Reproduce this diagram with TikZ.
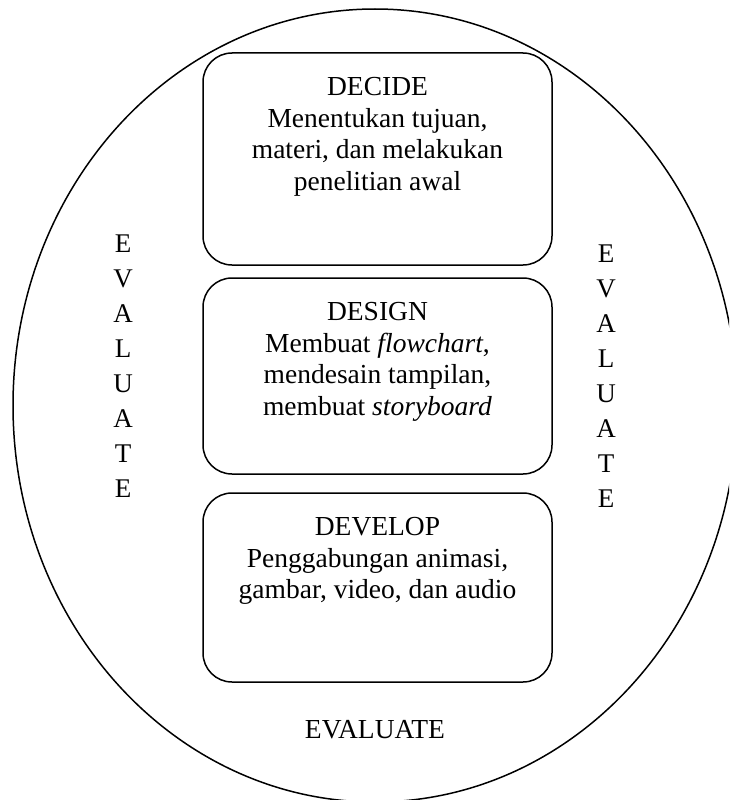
\documentclass[tikz,border=0pt]{standalone}
\usepackage{fontspec}
\setmainfont{Liberation Serif}
\usetikzlibrary{shapes.geometric}
\begin{document}
\begin{tikzpicture}[x=1pt,y=-1pt,
  stagebox/.style={draw,line width=1.5pt,rounded corners=29pt,inner sep=0pt,minimum width=349pt},
  txt/.style={align=center,inner sep=0pt,font=\fontsize{27.5}{31.5}\selectfont},
  vtxt/.style={align=center,inner sep=0pt,font=\fontsize{27}{35}\selectfont}]
\useasboundingbox (0,0) rectangle (729,800);
\clip (0,0) rectangle (729,800);
\node[draw,ellipse,line width=1.5pt,minimum width=724pt,minimum height=793pt,inner sep=0pt] (outer) at (375,405.5) {};
\node[stagebox,minimum height=212pt] (decide) at (377.5,159) {};
\node[stagebox,minimum height=196pt] (design) at (377.5,376) {};
\node[stagebox,minimum height=189pt] (develop) at (377.5,587.5) {};
\node[txt] (decidetxt) at (377.5,137) {DECIDE\\Menentukan tujuan,\\materi, dan melakukan\\penelitian awal};
\node[txt] (designtxt) at (377.5,362) {DESIGN\\Membuat \textit{flowchart},\\mendesain tampilan,\\membuat \textit{storyboard}};
\node[txt] (developtxt) at (377.5,561) {DEVELOP\\Penggabungan animasi,\\gambar, video, dan audio};
\node[vtxt] (evalleft) at (123,366) {E\\V\\A\\L\\U\\A\\T\\E};
\node[vtxt] (evalright) at (606,376) {E\\V\\A\\L\\U\\A\\T\\E};
\node[txt] (evalbottom) at (375,730) {EVALUATE};
\end{tikzpicture}
\end{document}
